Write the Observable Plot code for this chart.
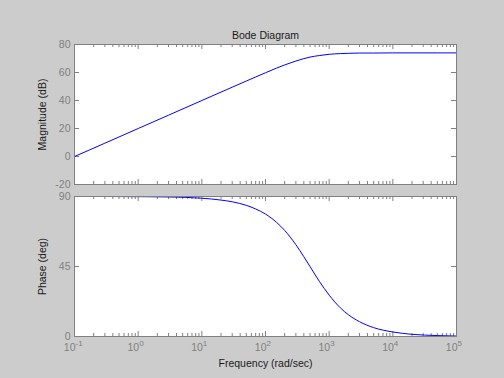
<!DOCTYPE html>
<html>
<head>
<meta charset="utf-8">
<script src="https://cdn.jsdelivr.net/npm/d3@7"></script>
<script src="https://cdn.jsdelivr.net/npm/@observablehq/plot@0.6"></script>
<style>
  html, body { margin: 0; padding: 0; background: #cccccc; }
  #chart { width: 504px; height: 378px; background: #cccccc; overflow: hidden; }
  #chart svg { display: block; }
</style>
</head>
<body>
<div id="chart"></div>
<script>
// ---- data ----
const freq      = [0.1, 0.3, 1, 3, 10, 20, 30, 50, 70, 100, 150, 200, 300, 400, 500, 700, 1000, 1500, 2000, 3000, 5000, 10000, 20000, 50000, 100000];
const magnitude = [0, 9.5, 20, 29.5, 40, 46, 49.5, 53.9, 56.8, 59.8, 63.2, 65.4, 68.2, 69.9, 71, 72.1, 73, 73.5, 73.7, 73.9, 73.9, 74, 74, 74, 74];
const phase     = [90, 90, 89.9, 89.7, 88.9, 87.7, 86.6, 84.3, 82, 78.7, 73.3, 68.2, 59, 51.3, 45, 35.5, 26.6, 18.4, 14, 9.5, 5.7, 2.9, 1.4, 0.6, 0.3];
const exponents   = [-1, 0, 1, 2, 3, 4, 5];
const magTicks    = [-20, 0, 20, 40, 60, 80];
const phaseTicks  = [0, 45, 90];
const titleText   = "Bode Diagram";
const magLabel    = "Magnitude (dB)";
const phaseLabel  = "Phase (deg)";
const xLabel      = "Frequency (rad/sec)";

const decades = exponents.map(e => 10 ** e);
const minorTicks = [];
for (const d of decades.slice(0, -1)) for (let k = 2; k <= 9; k++) minorTicks.push(d * k);

const font = "'Liberation Sans', Arial, Helvetica, sans-serif";
const W = 504, ML = 74, MR = 48;
const frameW = W - ML - MR;
const frameH = 140;
const tickCol = "#808080";
const labelCol = "#1a1a1a";

function panel({values, yTicks, yDomain, marginTop, marginBottom, extra}) {
  const pts = freq.map((f, i) => ({f, v: values[i]}));
  return Plot.plot({
    width: W,
    height: marginTop + frameH + marginBottom,
    marginLeft: ML, marginRight: MR, marginTop, marginBottom,
    style: {background: "transparent", fontFamily: font, fontSize: "10px", overflow: "visible"},
    x: {type: "log", domain: [0.1, 1e5], axis: null},
    y: {domain: yDomain, axis: null},
    marks: [
      Plot.frame({fill: "white", stroke: "none"}),
      Plot.tickX(decades, {x: d => d, stroke: tickCol, insetTop: frameH - 5}),
      Plot.tickX(decades, {x: d => d, stroke: tickCol, insetBottom: frameH - 5}),
      Plot.tickX(minorTicks, {x: d => d, stroke: tickCol, insetTop: frameH - 3}),
      Plot.tickX(minorTicks, {x: d => d, stroke: tickCol, insetBottom: frameH - 3}),
      Plot.tickY(yTicks, {y: d => d, stroke: tickCol, insetRight: frameW - 5}),
      Plot.tickY(yTicks, {y: d => d, stroke: tickCol, insetLeft: frameW - 5}),
      Plot.text(yTicks, {y: d => d, text: d => String(d), frameAnchor: "left", dx: -4, textAnchor: "end", fill: tickCol, fontSize: 10.5}),
      Plot.line(pts, {x: "f", y: "v", stroke: "#0000ff", strokeWidth: 1, curve: "monotone-x"}),
      Plot.frame({stroke: tickCol}),
      ...extra
    ]
  });
}

const topPanel = panel({
  values: magnitude, yTicks: magTicks, yDomain: [-20, 80], marginTop: 44, marginBottom: 6,
  extra: [
    Plot.text([titleText], {frameAnchor: "top", dy: -13, text: d => d, fill: labelCol, fontSize: 10.5, textAnchor: "middle"}),
    Plot.text([magLabel], {frameAnchor: "left", dx: -32, rotate: -90, text: d => d, fill: labelCol, fontSize: 10.5, textAnchor: "middle"})
  ]
});

const bottomPanel = panel({
  values: phase, yTicks: phaseTicks, yDomain: [0, 90], marginTop: 6, marginBottom: 42,
  extra: [
    Plot.text(decades, {x: d => d, text: () => "10", frameAnchor: "bottom", dy: 14, dx: 1, textAnchor: "end", fill: tickCol, fontSize: 10.5}),
    Plot.text(exponents, {x: e => 10 ** e, text: e => String(e), frameAnchor: "bottom", dy: 9, dx: 1, textAnchor: "start", fill: tickCol, fontSize: 8}),
    Plot.text([xLabel], {frameAnchor: "bottom", dy: 30, text: d => d, fill: labelCol, fontSize: 10.5, textAnchor: "middle"}),
    Plot.text([phaseLabel], {frameAnchor: "left", dx: -32, rotate: -90, text: d => d, fill: labelCol, fontSize: 10.5, textAnchor: "middle"})
  ]
});

const chart = document.getElementById("chart");
chart.appendChild(topPanel);
chart.appendChild(bottomPanel);
</script>
</body>
</html>
